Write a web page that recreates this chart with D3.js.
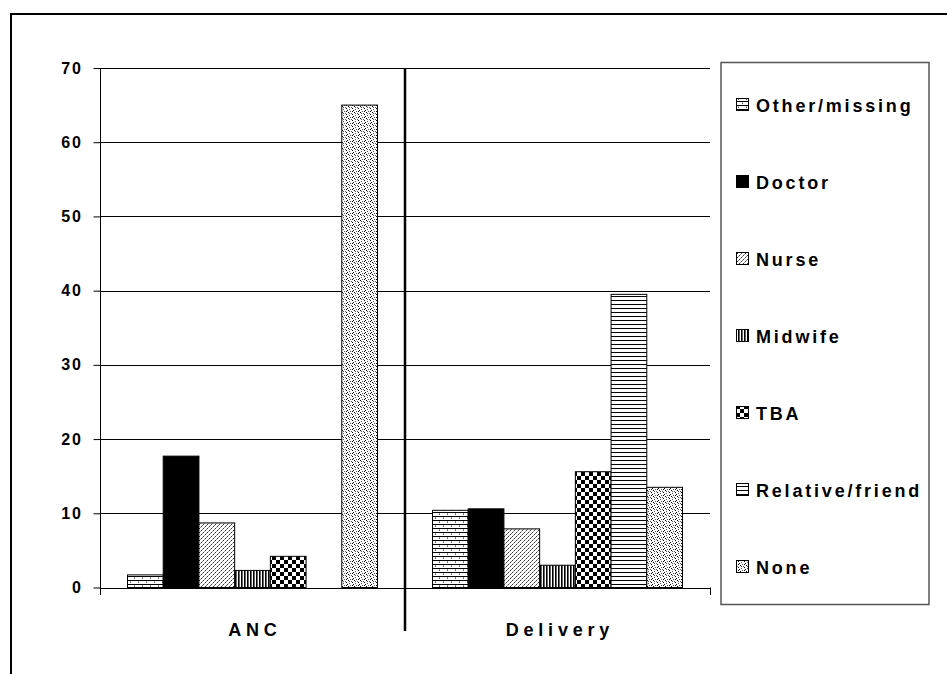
<!DOCTYPE html>
<html>
<head>
<meta charset="utf-8">
<script src="https://cdn.jsdelivr.net/npm/d3@7/dist/d3.min.js"></script>
<style>
  html, body { margin: 0; padding: 0; background: #fff; }
  svg { display: block; font-family: "Liberation Sans", Arial, sans-serif; font-weight: bold; }
</style>
</head>
<body>
<svg id="chart" width="947" height="674"></svg>
<script>
// Who attended antenatal care (ANC) and delivery, percent of women
const categories = ["ANC", "Delivery"];
const seriesNames = ["Other/missing", "Doctor", "Nurse", "Midwife", "TBA", "Relative/friend", "None"];
const ancValues = [1.7, 17.7, 8.7, 2.3, 4.2, 0, 65.0];
const deliveryValues = [10.4, 10.6, 7.9, 3.0, 15.6, 39.5, 13.5];
const yTicks = [0, 10, 20, 30, 40, 50, 60, 70];

const valuesByCategory = { "ANC": ancValues, "Delivery": deliveryValues };

const svg = d3.select("#chart");
const defs = svg.append("defs");

// ---- fill patterns, one per series ----
function pattern(id, w, h, draw) {
  const p = defs.append("pattern")
    .attr("id", id).attr("patternUnits", "userSpaceOnUse")
    .attr("width", w).attr("height", h);
  p.append("rect").attr("width", w).attr("height", h).attr("fill", "#fff");
  draw(p);
  return `url(#${id})`;
}
const px = (p, x, y, c) => p.append("rect").attr("x", x).attr("y", y).attr("width", 1).attr("height", 1).attr("fill", c || "#000");

const fills = {
  "Other/missing": pattern("pBrick", 8, 8, p => {
    p.append("rect").attr("x", 0).attr("y", 0).attr("width", 8).attr("height", 1).attr("fill", "#000");
    p.append("rect").attr("x", 0).attr("y", 4).attr("width", 8).attr("height", 1).attr("fill", "#000");
    px(p, 2, 2, "#555"); px(p, 6, 6, "#555");
    px(p, 2, 1, "#999"); px(p, 6, 5, "#999");
  }),
  "Doctor": "#000",
  "Nurse": pattern("pNurse", 4, 4, p => {
    px(p, 3, 0, "#333"); px(p, 2, 1, "#777"); px(p, 1, 2, "#333"); px(p, 0, 3, "#999");
  }),
  "Midwife": pattern("pMidwife", 3, 3, p => {
    p.append("rect").attr("x", 0).attr("width", 1).attr("height", 3).attr("fill", "#000");
    p.append("rect").attr("x", 1).attr("width", 1).attr("height", 3).attr("fill", "#666");
  }),
  "TBA": pattern("pChecker", 8, 8, p => {
    p.append("rect").attr("x", 0).attr("y", 0).attr("width", 4).attr("height", 4).attr("fill", "#000");
    p.append("rect").attr("x", 4).attr("y", 4).attr("width", 4).attr("height", 4).attr("fill", "#000");
  }),
  "Relative/friend": pattern("pHoriz", 4, 4, p => {
    p.append("rect").attr("x", 0).attr("y", 0).attr("width", 4).attr("height", 1).attr("fill", "#000");
  }),
  "None": pattern("pNone", 6, 6, p => {
    [[0,0],[3,1],[1,2],[4,3],[2,4],[5,5],[0,3],[3,5]].forEach(([x, y], i) => px(p, x, y, i % 2 ? "#555" : "#000"));
  })
};

// ---- scales ----
const x0 = d3.scaleBand().domain(categories).range([100, 710]).padding(0);
const x1 = d3.scaleBand().domain(seriesNames).range([27.5, 277.5]).padding(0);
const y = d3.scaleLinear().domain([0, 70]).range([587.5, 68]);

// ---- outer frame ----
svg.append("line").attr("x1", 10).attr("x2", 947).attr("y1", 14).attr("y2", 14)
  .attr("stroke", "#000").attr("stroke-width", 2);
svg.append("line").attr("x1", 11).attr("x2", 11).attr("y1", 13).attr("y2", 674)
  .attr("stroke", "#000").attr("stroke-width", 2);

// ---- gridlines ----
svg.append("g").selectAll("line").data(yTicks).join("line")
  .attr("x1", 100).attr("x2", 710)
  .attr("y1", d => Math.round(y(d)) + 0.5).attr("y2", d => Math.round(y(d)) + 0.5)
  .attr("stroke", "#000").attr("stroke-width", 1);

// ---- y axis ----
const yAxis = d3.axisLeft(y).tickValues(yTicks).tickSize(7).tickPadding(10.5).tickFormat(d3.format("d"));
const gy = svg.append("g").attr("transform", "translate(100.5,0)").call(yAxis);
gy.select(".domain").remove();
gy.selectAll(".tick line").attr("stroke", "#000");
gy.selectAll(".tick text").attr("font-size", 16).attr("font-weight", "bold")
  .attr("font-family", "Liberation Sans, Arial, sans-serif").attr("fill", "#000")
  .attr("letter-spacing", "2px");
svg.append("line").attr("x1", 100.5).attr("x2", 100.5).attr("y1", y(70)).attr("y2", 595)
  .attr("stroke", "#000").attr("stroke-width", 1);

// ---- category axis ticks ----
svg.append("line").attr("x1", 710.5).attr("x2", 710.5).attr("y1", y(0)).attr("y2", 595)
  .attr("stroke", "#000");

// ---- bars ----
const groups = svg.append("g").selectAll("g").data(categories).join("g")
  .attr("transform", d => `translate(${x0(d)},0)`);
groups.selectAll("rect")
  .data(c => seriesNames.map((s, i) => ({ s, v: valuesByCategory[c][i] })).filter(d => d.v > 0))
  .join("rect")
  .attr("x", d => x1(d.s))
  .attr("y", d => y(d.v))
  .attr("width", x1.bandwidth())
  .attr("height", d => y(0) - y(d.v))
  .attr("fill", d => fills[d.s])
  .attr("stroke", "#000").attr("stroke-width", 1);

// ---- divider between the two groups ----
svg.append("line").attr("x1", x0("Delivery")).attr("x2", x0("Delivery"))
  .attr("y1", y(70)).attr("y2", 631)
  .attr("stroke", "#000").attr("stroke-width", 2.5);

// ---- category labels ----
svg.append("g").selectAll("text").data(categories).join("text")
  .attr("x", d => x0(d) + x0.bandwidth() / 2 + 2.4)
  .attr("y", 636)
  .attr("text-anchor", "middle")
  .attr("font-size", 18).attr("letter-spacing", "4.8px")
  .text(d => d);

// ---- legend ----
svg.append("rect").attr("x", 721).attr("y", 62.5).attr("width", 208).attr("height", 542)
  .attr("fill", "#fff").attr("stroke", "#555").attr("stroke-width", 1.5);
const legendY = d3.scalePoint().domain(seriesNames).range([105, 567]);
const lg = svg.append("g").selectAll("g").data(seriesNames).join("g")
  .attr("transform", d => `translate(0,${legendY(d)})`);
lg.append("rect").attr("x", 736.5).attr("y", -6.5).attr("width", 12).attr("height", 12)
  .attr("fill", d => fills[d]).attr("stroke", "#000").attr("stroke-width", 1);
lg.append("text").attr("x", 756).attr("y", 6.5)
  .attr("font-size", 18).attr("letter-spacing", "2.8px")
  .text(d => d);
</script>
</body>
</html>
